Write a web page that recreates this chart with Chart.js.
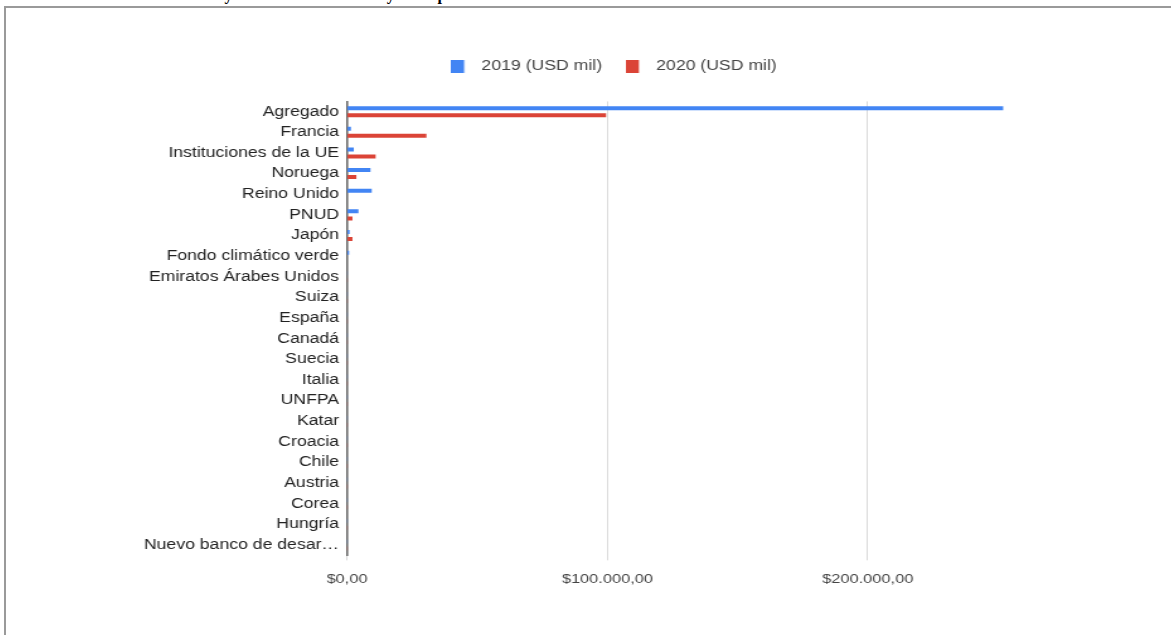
<!DOCTYPE html>
<html>
<head>
<meta charset="utf-8">
<script src="https://cdn.jsdelivr.net/npm/chart.js@4.4.1/dist/chart.umd.min.js"></script>
<style>
  html, body { margin: 0; padding: 0; background: #fff; width: 1171px; height: 635px; overflow: hidden; position: relative; }
  #titleClip { position: absolute; left: 0; top: 0; width: 1171px; height: 5px; overflow: hidden; }
  #title { position: absolute; left: 42px; top: -13px; font: bold 16px "Liberation Serif", "Times New Roman", serif; line-height: 16px; color: #000; white-space: nowrap; letter-spacing: 0.4px; }
  #frameTop { position: absolute; left: 4px; top: 6px; width: 1167px; height: 2px; background: #9a9a9a; }
  #frameLeft { position: absolute; left: 4px; top: 6px; width: 2px; height: 629px; background: #9a9a9a; }
  #wrap { position: absolute; left: 40px; top: 8px; transform-origin: 0 0; }
  #wrap canvas { display: block; }
</style>
</head>
<body>
<div id="titleClip"><div id="title">Gráfico 3. Montos de la ayuda recibida en 2019 y 2020 por donante</div></div>
<div id="frameTop"></div>
<div id="frameLeft"></div>
<div id="wrap"><canvas id="c"></canvas></div>
<script>
const categories = ["Agregado", "Francia", "Instituciones de la UE", "Noruega", "Reino Unido", "PNUD", "Japón",
  "Fondo climático verde", "Emiratos Árabes Unidos", "Suiza", "España", "Canadá", "Suecia", "Italia", "UNFPA",
  "Katar", "Croacia", "Chile", "Austria", "Corea", "Hungría", "Nuevo banco de desarrollo"];
const seriesNames = ["2019 (USD mil)", "2020 (USD mil)"];
const values2019 = [252000, 1500, 2600, 9000, 9500, 4400, 1000, 800, 90, 80, 70, 60, 50, 45, 40, 35, 30, 25, 20, 15, 10, 5];
const values2020 = [99500, 30500, 11000, 3600, 0, 2100, 2100, 0, 60, 50, 45, 40, 35, 30, 25, 20, 15, 12, 10, 8, 5, 3];
const xTicks = [0, 100000, 200000];
const xMax = 260000;

// horizontal stretch of the rendered chart (reference text is wide)
const SX = 1.26;
const PAGE_LEFT = 40, PAGE_W = 1131, PAGE_H = 627;
const CW = Math.round(PAGE_W / SX);
const AREA_L = (347 - PAGE_LEFT) / SX;
const AREA_R = (1024 - PAGE_LEFT) / SX;
const LEGEND_CX = (614 - PAGE_LEFT) / SX;

const cv = document.getElementById("c");
cv.width = CW; cv.height = PAGE_H;
cv.style.width = CW + "px"; cv.style.height = PAGE_H + "px";
document.getElementById("wrap").style.transform = "scaleX(" + SX + ")";

function fmtMoney(v) {
  const s = Math.round(v).toString().replace(/\B(?=(\d{3})+(?!\d))/g, ".");
  return "$" + s + ",00";
}

function legendSwatch(color) {
  const c = document.createElement("canvas");
  c.width = 17; c.height = 13;
  const g = c.getContext("2d");
  g.fillStyle = color;
  g.fillRect(0, 0, 10.3, 13);
  return c;
}

const colors = ["#4285F4", "#DB4437"];
const FONT = "'Liberation Sans', Arial, sans-serif";

const legendTweak = {
  id: "legendTweak",
  afterInit(chart) {
    const lg = chart.legend;
    if (!lg) return;
    const origFit = lg.fit;
    lg.fit = function () { origFit.call(this); this.height += 18.4; };
    const origDraw = lg.draw;
    lg.draw = function () {
      const ctx = this.ctx;
      const dx = LEGEND_CX - (this.left + this.right) / 2;
      ctx.save();
      ctx.translate(dx, 0);
      origDraw.apply(this, arguments);
      ctx.restore();
    };
  }
};

new Chart(cv, {
  type: "bar",
  plugins: [legendTweak],
  data: {
    labels: categories,
    datasets: [
      { label: seriesNames[0], data: values2019, backgroundColor: colors[0], borderWidth: 0, categoryPercentage: 0.68, barPercentage: 0.57 },
      { label: seriesNames[1], data: values2020, backgroundColor: colors[1], borderWidth: 0, categoryPercentage: 0.68, barPercentage: 0.57 }
    ]
  },
  options: {
    indexAxis: "y",
    responsive: false,
    animation: false,
    devicePixelRatio: 1,
    layout: { padding: { left: 0, right: CW - AREA_R, top: 32, bottom: 29.7 } },
    plugins: {
      tooltip: { enabled: false },
      legend: {
        display: true,
        position: "top",
        align: "center",
        labels: {
          usePointStyle: true,
          pointStyleWidth: 17,
          boxHeight: 13,
          padding: 19,
          color: "#444",
          font: { family: FONT, size: 14 },
          generateLabels(chart) {
            return chart.data.datasets.map((ds, i) => ({
              text: ds.label,
              fillStyle: colors[i],
              strokeStyle: colors[i],
              lineWidth: 0,
              pointStyle: legendSwatch(colors[i]),
              hidden: false,
              datasetIndex: i,
              fontColor: "#444"
            }));
          }
        }
      }
    },
    scales: {
      x: {
        type: "linear",
        min: 0,
        max: xMax,
        afterBuildTicks(scale) { scale.ticks = xTicks.map(v => ({ value: v })); },
        afterFit(scale) { scale.height = 50; },
        border: { display: false },
        grid: {
          color: "#d4d4d4",
          lineWidth: 0.85,
          tickLength: 5,
          drawTicks: true
        },
        ticks: {
          padding: 11.5,
          color: "#444",
          font: { family: FONT, size: 13 },
          callback: (v) => fmtMoney(v)
        }
      },
      y: {
        afterFit(scale) { scale.width = AREA_L; },
        border: { display: true, color: "#6e6e6e", width: 1.6 },
        grid: { display: false, drawTicks: false },
        ticks: {
          padding: 6.3,
          color: "#222",
          autoSkip: false,
          font: { family: FONT, size: 14 },
          callback(value) {
            const l = this.getLabelForValue(value);
            return l.length > 22 ? l.slice(0, 20) + "…" : l;
          }
        }
      }
    }
  }
});
</script>
</body>
</html>
